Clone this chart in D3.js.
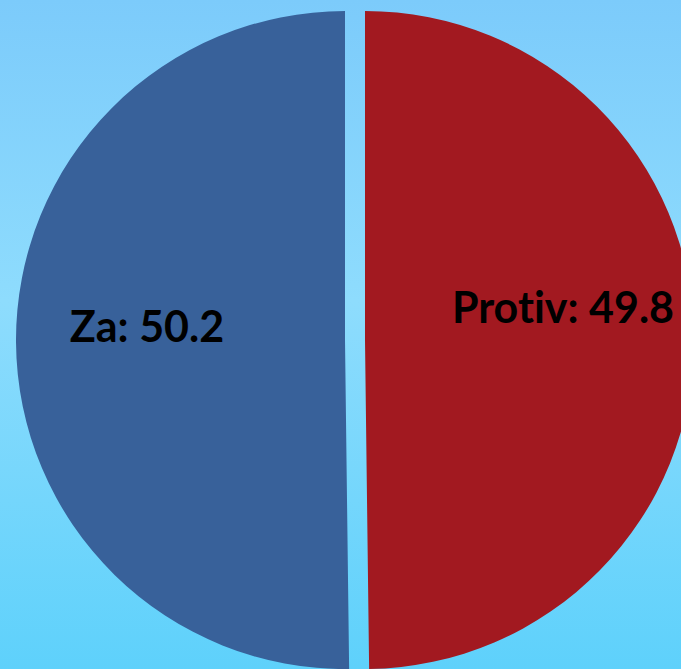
<!DOCTYPE html>
<html>
<head>
<meta charset="utf-8">
<script src="https://cdn.jsdelivr.net/npm/d3@7"></script>
<style>
  html, body { margin: 0; padding: 0; overflow: hidden; }
  svg { display: block; }
</style>
</head>
<body>
<div id="chart-area"></div>
<script>
// data, in drawing order (clockwise from 12 o'clock)
var categories = ["Protiv", "Za"];
var values = [49.8, 50.2];
var sliceColors = ["#a21920", "#38619a"];

var width = 681,
    height = 669,
    radius = 329,
    explode = 10;

var svg = d3.select("#chart-area").append("svg")
    .attr("width", width)
    .attr("height", height);

// background gradient
var grad = svg.append("defs").append("linearGradient")
    .attr("id", "bg")
    .attr("x1", 0).attr("y1", 0)
    .attr("x2", 0).attr("y2", 1);
grad.append("stop").attr("offset", "0%").attr("stop-color", "#7ccbfb");
grad.append("stop").attr("offset", "45%").attr("stop-color", "#8edcfd");
grad.append("stop").attr("offset", "100%").attr("stop-color", "#5ed1fb");

svg.append("rect")
    .attr("width", width)
    .attr("height", height)
    .attr("fill", "url(#bg)");

var g = svg.append("g")
    .attr("transform", "translate(355,340)");

var pie = d3.pie().sort(null).value(function(d) { return d.value; });
var arc = d3.arc().innerRadius(0).outerRadius(radius);
var labelArc = d3.arc().innerRadius(198).outerRadius(198);

var data = categories.map(function(c, i) {
    return { name: c, value: values[i], color: sliceColors[i] };
});
var arcs = pie(data);

//offset of each slice along its bisector
function shift(d) {
    var mid = (d.startAngle + d.endAngle) / 2;
    return [Math.sin(mid) * explode, -Math.cos(mid) * explode];
}

var slices = g.selectAll(".slice")
    .data(arcs)
    .enter()
    .append("g")
    .attr("class", "slice")
    .attr("transform", function(d) {
        var s = shift(d);
        return "translate(" + s[0] + "," + s[1] + ")";
    });

slices.append("path")
    .attr("d", arc)
    .attr("fill", function(d) { return d.data.color; });

// label nudges (Excel best-fit moved the right label up)
var nudge = { "Protiv": -16, "Za": 1 };

slices.append("text")
    .attr("x", function(d) { return labelArc.centroid(d)[0]; })
    .attr("y", function(d) { return labelArc.centroid(d)[1] + nudge[d.data.name]; })
    .attr("text-anchor", "middle")
    .style("font-family", "Lato, 'Open Sans', sans-serif")
    .style("font-weight", "bold")
    .style("font-size", "43px")
    .style("font-variant-ligatures", "none")
    .style("font-feature-settings", "'liga' 0")
    .style("fill", "#000")
    .text(function(d) { return d.data.name + ": " + d.data.value; });
</script>
</body>
</html>
